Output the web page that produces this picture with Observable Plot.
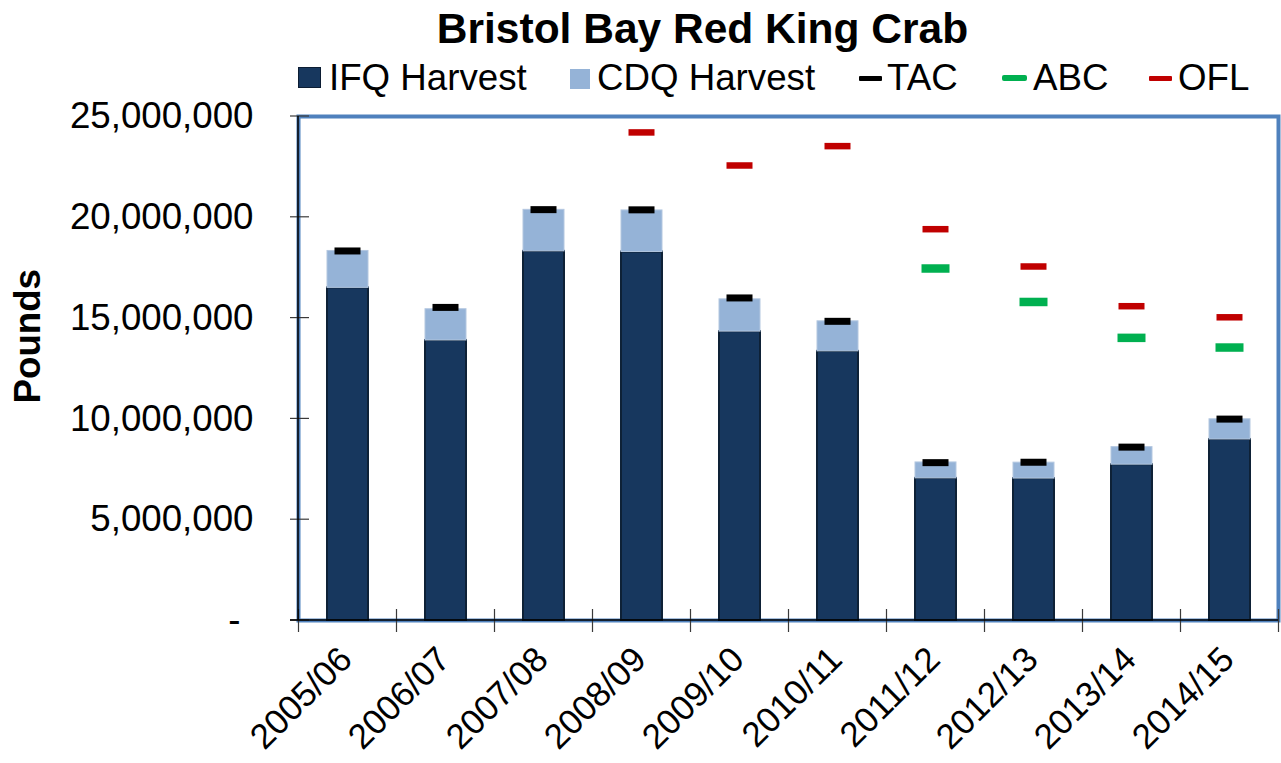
<!DOCTYPE html>
<html><head><meta charset="utf-8">
<script src="https://cdn.jsdelivr.net/npm/d3@7"></script>
<script src="https://cdn.jsdelivr.net/npm/@observablehq/plot@0.6"></script>
<style>
body{margin:0;background:#fff;font-family:"Liberation Sans",Arial,sans-serif;color:#000;}
#wrap{position:relative;width:1281px;height:763px;overflow:hidden;}
#head{position:relative;width:1281px;height:100px;}
.title{position:absolute;top:7.5px;left:702.5px;transform:translateX(-50%);font-weight:bold;font-size:42.5px;line-height:1;white-space:nowrap;}
.lg{position:absolute;top:59.5px;font-size:36.7px;line-height:1;white-space:nowrap;}
.sw{position:absolute;box-sizing:border-box;}
#chart svg{display:block;}
</style></head>
<body><div id="wrap"><div id="head"></div><div id="chart"></div></div>
<script>
const categories = ["2005/06","2006/07","2007/08","2008/09","2009/10","2010/11","2011/12","2012/13","2013/14","2014/15"];
const ifqHarvest = [16.50e6, 13.89e6, 18.31e6, 18.28e6, 14.33e6, 13.35e6, 7.05e6, 7.04e6, 7.73e6, 8.98e6];
const cdqHarvest = [1.83e6, 1.55e6, 2.06e6, 2.06e6, 1.60e6, 1.49e6, 0.79e6, 0.79e6, 0.87e6, 1.00e6];
const tac = [18.33e6, 15.53e6, 20.38e6, 20.37e6, 16.00e6, 14.84e6, 7.83e6, 7.85e6, 8.60e6, 9.99e6];
const abc = [null, null, null, null, null, null, 17.46e6, 15.80e6, 14.02e6, 13.54e6];
const ofl = [null, null, null, 24.21e6, 22.57e6, 23.53e6, 19.41e6, 17.56e6, 15.59e6, 15.04e6];
const yTicks = [0, 5e6, 10e6, 15e6, 20e6, 25e6];
const titleText = "Bristol Bay Red King Crab";
const yLabel = "Pounds";
const legendLabels = ["IFQ Harvest", "CDQ Harvest", "TAC", "ABC", "OFL"];
const legendColors = ["#17375E", "#95B3D7", "#000000", "#00B050", "#C00000"];

// header: title + legend
const head = document.getElementById("head");
const t = document.createElement("div"); t.className = "title"; t.textContent = titleText; head.appendChild(t);
const swGeom = [
  {l:298, t:67, w:23, h:21, border:"1.5px solid #0c1d33", r:0},
  {l:570, t:69, w:20, h:20, border:"none", r:0},
  {l:859, t:76, w:23, h:5, border:"none", r:1},
  {l:1002, t:75, w:25, h:6, border:"none", r:2},
  {l:1149, t:76, w:23, h:5, border:"none", r:1}
];
const textLeft = [329, 597, 887, 1033, 1178];
legendLabels.forEach((lab, i) => {
  const g = swGeom[i];
  const s = document.createElement("div"); s.className = "sw";
  Object.assign(s.style, {left:g.l+"px", top:g.t+"px", width:g.w+"px", height:g.h+"px", background:legendColors[i], border:g.border, borderRadius:g.r+"px"});
  head.appendChild(s);
  const tx = document.createElement("div"); tx.className = "lg"; tx.style.left = textLeft[i] + "px"; tx.textContent = lab;
  head.appendChild(tx);
});

const rows = categories.map((c, i) => ({year: c, ifq: ifqHarvest[i], total: ifqHarvest[i] + cdqHarvest[i], tac: tac[i], abc: abc[i], ofl: ofl[i]}));

function decor(index, scales, values, dim) {
  const g = d3.create("svg:g");
  const x0 = dim.marginLeft, x1 = dim.width - dim.marginRight;
  const y0 = dim.marginTop, y1 = dim.height - dim.marginBottom;
  const sx = scales.x, sy = scales.y;
  const step = typeof sx.step === "function" ? sx.step() : (x1 - x0) / categories.length;
  const bw = typeof sx.bandwidth === "function" ? sx.bandwidth() : step * 0.42;
  const ticks = g.append("g").attr("stroke", "#3a3a3a").attr("stroke-width", 1.2);
  for (const v of yTicks) {
    const y = sy(v);
    ticks.append("line").attr("x1", x0 - 8).attr("x2", x0 + 11).attr("y1", y).attr("y2", y);
  }
  const bounds = categories.map(c => sx(c) - (step - bw) / 2);
  bounds.push(sx(categories[categories.length - 1]) + bw + (step - bw) / 2);
  for (const b of bounds) {
    ticks.append("line").attr("x1", b).attr("x2", b).attr("y1", y1 - 11).attr("y2", y1 + 12);
  }
  const ax = g.append("g").attr("stroke", "#000").attr("stroke-width", 1.5);
  ax.append("line").attr("x1", x0).attr("x2", x0).attr("y1", y0).attr("y2", y1);
  ax.append("line").attr("x1", x0 - 8).attr("x2", x1).attr("y1", y1).attr("y2", y1);
  return g.node();
}

const plot = Plot.plot({
  width: 1281, height: 663,
  marginTop: 16, marginBottom: 143, marginLeft: 298, marginRight: 3,
  style: {fontFamily: '"Liberation Sans", Arial, sans-serif', fontSize: "36.7px", color: "#000", background: "#fff", overflow: "visible"},
  x: {domain: categories, paddingInner: 0.582, paddingOuter: 0.291, axis: null},
  y: {domain: [0, 25e6]},
  marks: [
    Plot.frame({stroke: "#4F81BD", strokeWidth: 4}),
    Plot.barY(rows, {x: "year", y1: 0, y2: "ifq", fill: "#17375E", stroke: "#0e2136", strokeWidth: 2}),
    Plot.barY(rows, {x: "year", y1: "ifq", y2: "total", fill: "#95B3D7", stroke: "#b3c7e0", strokeWidth: 1}),
    decor,
    Plot.tickY(rows, {x: "year", y: "tac", stroke: "#000", strokeWidth: 7, inset: 7.5}),
    Plot.tickY(rows.filter(d => d.abc != null), {x: "year", y: "abc", stroke: "#00B050", strokeWidth: 8.5, inset: 6.5}),
    Plot.tickY(rows.filter(d => d.ofl != null), {x: "year", y: "ofl", stroke: "#C00000", strokeWidth: 6.5, inset: 7.5}),
    Plot.axisY({ticks: yTicks.filter(v => v > 0), tickSize: 0, tickPadding: 45, tickFormat: d3.format(","), label: null}),
    Plot.axisY({ticks: [0], tickSize: 0, tickPadding: 58, tickFormat: () => "-", label: null}),
    Plot.text(categories, {x: d => d, text: d => d, frameAnchor: "bottom", rotate: -45, textAnchor: "end", lineAnchor: "middle", fontSize: 35, dx: -2, dy: 33}),
    Plot.text([yLabel], {text: d => d, frameAnchor: "left", dx: -270, dy: 35, rotate: -90, fontWeight: "bold"})
  ]
});
document.getElementById("chart").appendChild(plot);
</script>
</body></html>
